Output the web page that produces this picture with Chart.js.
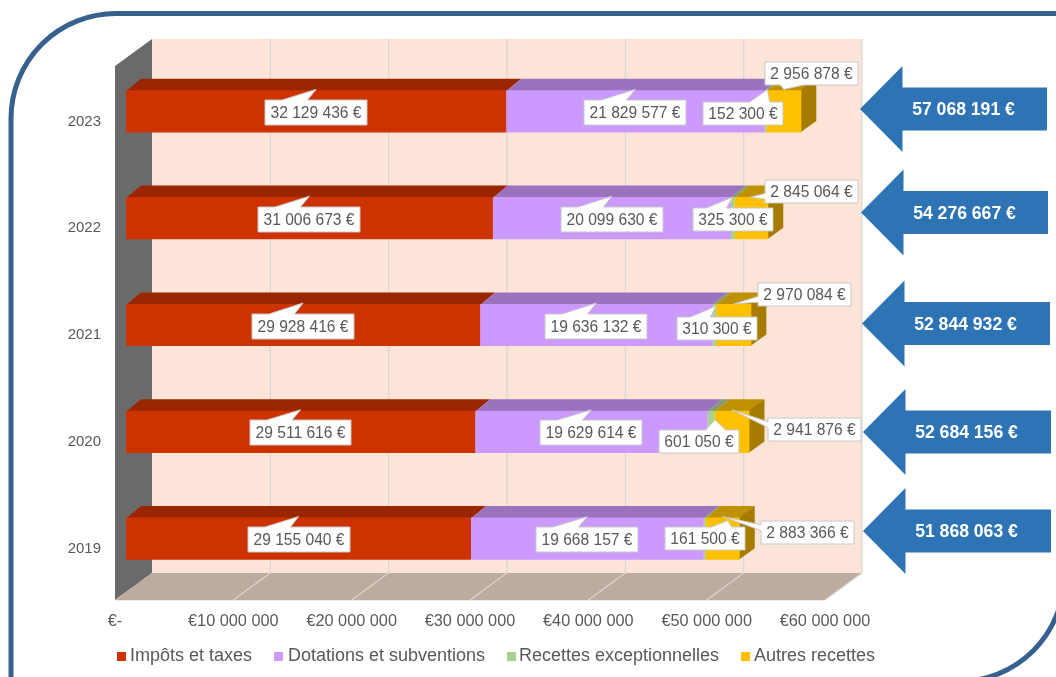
<!DOCTYPE html>
<html lang="fr">
<head>
<meta charset="utf-8">
<title>Recettes de fonctionnement</title>
<script src="https://cdn.jsdelivr.net/npm/chart.js@4"></script>
<style>
  html, body { margin: 0; padding: 0; background: #fff; overflow: hidden; }
  canvas { display: block; }
</style>
</head>
<body>
<canvas id="recettesChart" width="1056" height="677"></canvas>
<script>
const years = ['2023', '2022', '2021', '2020', '2019'];
const impots = [32129436, 31006673, 29928416, 29511616, 29155040];
const dotations = [21829577, 20099630, 19636132, 19629614, 19668157];
const exceptionnelles = [152300, 325300, 310300, 601050, 161500];
const autres = [2956878, 2845064, 2970084, 2941876, 2883366];
const seriesNames = ['Impôts et taxes', 'Dotations et subventions', 'Recettes exceptionnelles', 'Autres recettes'];

const frontColors = ['#CC3300', '#CC99FF', '#A9D18E', '#FFC000'];
const topColors = ['#9A2600', '#9A72BE', '#7F9E6B', '#BF9000'];
const sideColor = '#A67C00';
const textColor = '#595959';
const fontFamily = '"Liberation Sans", Arial, sans-serif';

// fake 3D: wall depth, bar position inside it, and bar thickness in depth
const wallDepth = { x: 37, y: -27 };
const barShift = { x: 11, y: -8 };
const barDepth = { x: 15, y: -11.5 };

// callout placement relative to the segment centre, for the two small series
const smallCallouts = [
  [{ dx: -22, dy: 2, tipX: 2, tipY: -22 }, { dx: 28, dy: -38, tipX: 0, tipY: -22 }],
  [{ dx: 0, dy: 1, tipX: 0, tipY: -21 }, { dx: 60, dy: -27, tipX: -1, tipY: -21 }],
  [{ dx: 3, dy: 3, tipX: 2, tipY: -19 }, { dx: 71, dy: -31, tipX: 0, tipY: -21 }],
  [{ dx: -12, dy: 10, tipX: 4, tipY: -12 }, { dx: 82, dy: -2, tipX: 0, tipY: -22 }],
  [{ dx: 0, dy: 0, tipX: 23, tipY: -18 }, { dx: 85, dy: -6, tipX: 0, tipY: -22 }]
];

// blue total arrows, one per year
const arrowTips = [860, 861, 862, 863, 863];
const arrowEnds = [1047, 1048, 1050, 1051, 1051];
const arrowMids = [109, 212.5, 323.5, 432, 531];
const legendSquares = [117, 274, 507, 741];
const legendTexts = [130, 288, 519, 754];

const formatEuro = v => String(v).replace(/\B(?=(\d{3})+$)/g, ' ');

function polygon(ctx, points, fill) {
  ctx.beginPath();
  points.forEach((p, i) => (i ? ctx.lineTo(p[0], p[1]) : ctx.moveTo(p[0], p[1])));
  ctx.closePath();
  ctx.fillStyle = fill;
  ctx.fill();
}

// blue frame around the slide, rounded on two opposite corners
const framePlugin = {
  id: 'frame',
  beforeDraw(chart) {
    const ctx = chart.ctx;
    ctx.save();
    ctx.beginPath();
    ctx.roundRect(11, 13.5, 1053, 668, [105, 0, 105, 0]);
    ctx.lineWidth = 5;
    ctx.strokeStyle = '#36618F';
    ctx.stroke();
    ctx.restore();
  }
};

const wallsPlugin = {
  id: 'walls',
  beforeDatasetsDraw(chart) {
    const ctx = chart.ctx;
    const { left, right, top, bottom } = chart.chartArea;
    const dx = wallDepth.x, dy = wallDepth.y;
    const x = chart.scales.x;

    polygon(ctx, [[left + dx, top + dy], [right + dx, top + dy], [right + dx, bottom + dy], [left + dx, bottom + dy]], '#FDE4D8');
    polygon(ctx, [[left, top], [left + dx, top + dy], [left + dx, bottom + dy], [left, bottom]], '#6A6A6A');
    polygon(ctx, [[left, bottom], [left + dx, bottom + dy], [right + dx, bottom + dy], [right, bottom]], '#BDABA0');

    ctx.save();
    ctx.strokeStyle = '#DAD6D3';
    ctx.lineWidth = 1.2;
    x.ticks.forEach(t => {
      const px = x.getPixelForValue(t.value);
      if (t.value === 0) return;
      ctx.beginPath();
      ctx.moveTo(px, bottom);
      ctx.lineTo(px + dx, bottom + dy);
      ctx.lineTo(px + dx, top + dy);
      ctx.stroke();
    });
    ctx.beginPath();
    ctx.moveTo(left, bottom + 0.5);
    ctx.lineTo(right, bottom + 0.5);
    ctx.strokeStyle = '#F0E8E3';
    ctx.stroke();
    ctx.restore();

    // everything the datasets draw sits a little inside the box
    ctx.save();
    ctx.translate(barShift.x, barShift.y);
    drawBarFaces(chart);
  },
  afterDatasetsDraw(chart) {
    chart.ctx.restore();
  }
};

// top and end faces; they run 1px under the front face so no seam shows
function drawBarFaces(chart) {
  const ctx = chart.ctx;
  const last = chart.data.datasets.length - 1;
  chart.data.datasets.forEach((ds, d) => {
    chart.getDatasetMeta(d).data.forEach(bar => {
      const top = bar.y - bar.height / 2;
      const bottom = bar.y + bar.height / 2;
      polygon(ctx, [[bar.base, top + 1], [bar.x, top + 1], [bar.x + barDepth.x, top + barDepth.y], [bar.base + barDepth.x, top + barDepth.y]], topColors[d]);
      if (d === last) {
        polygon(ctx, [[bar.x - 1, top], [bar.x + barDepth.x, top + barDepth.y], [bar.x + barDepth.x, bottom + barDepth.y], [bar.x - 1, bottom]], sideColor);
      }
    });
  });
}

// rectangular callout with a wedge on the edge facing its tip
function drawCallout(ctx, text, cx, cy, h, tx, ty) {
  ctx.font = '15.6px ' + fontFamily;
  const w = Math.round(ctx.measureText(text).width + 11);
  const l = Math.round(cx - w / 2), t = Math.round(cy - h / 2);
  const r = l + w, b = t + h;
  const rx = (tx - cx) / w, ry = (ty - cy) / h;
  const pts = [];
  const along = (a, size, first) => (first ? [a + size / 6, a + size * 5 / 12] : [a + size * 7 / 12, a + size * 5 / 6]);

  pts.push([l, t]);
  if (Math.abs(ry) > Math.abs(rx) && ry < 0) {
    const s = along(l, w, rx < 0.05);
    pts.push([s[0], t], [tx, ty], [s[1], t]);
  }
  pts.push([r, t]);
  if (Math.abs(rx) >= Math.abs(ry) && rx > 0) {
    const s = along(t, h, ry < 0);
    pts.push([r, s[0]], [tx, ty], [r, s[1]]);
  }
  pts.push([r, b]);
  if (Math.abs(ry) > Math.abs(rx) && ry > 0) {
    const s = along(l, w, rx < 0.05);
    pts.push([s[1], b], [tx, ty], [s[0], b]);
  }
  pts.push([l, b]);
  if (Math.abs(rx) >= Math.abs(ry) && rx < 0) {
    const s = along(t, h, ry < 0);
    pts.push([l, s[1]], [tx, ty], [l, s[0]]);
  }

  polygon(ctx, pts, '#FFFFFF');
  ctx.lineWidth = 1;
  ctx.strokeStyle = '#C8C8C8';
  ctx.stroke();

  ctx.fillStyle = textColor;
  ctx.textAlign = 'center';
  ctx.textBaseline = 'middle';
  ctx.fillText(text, (l + r) / 2, (t + b) / 2 + 1);
}

const calloutsPlugin = {
  id: 'callouts',
  afterDraw(chart) {
    const ctx = chart.ctx;
    ctx.save();
    chart.data.datasets.forEach((ds, d) => {
      chart.getDatasetMeta(d).data.forEach((bar, i) => {
        const mx = (bar.base + bar.x) / 2 + barShift.x;
        const my = bar.y + barShift.y;
        const small = d >= 2 ? smallCallouts[i][d - 2] : { dx: 0, dy: 1, tipX: 0, tipY: -22 };
        drawCallout(ctx, formatEuro(ds.data[i]) + ' €', mx + small.dx, my + small.dy, d >= 2 ? 23 : 25, mx + small.tipX, my + small.tipY);
      });
    });
    ctx.restore();
  }
};

const arrowsPlugin = {
  id: 'arrows',
  afterDraw(chart) {
    const ctx = chart.ctx;
    const sets = chart.data.datasets;
    ctx.save();
    years.forEach((y, i) => {
      const tip = arrowTips[i], end = arrowEnds[i], mid = arrowMids[i];
      const neck = tip + 42.5;
      polygon(ctx, [[tip, mid], [neck, mid - 43], [neck, mid - 21.5], [end, mid - 21.5], [end, mid + 21.5], [neck, mid + 21.5], [neck, mid + 43]], '#2E74B5');
      const total = sets.reduce((sum, ds) => sum + ds.data[i], 0);
      ctx.font = 'bold 17.6px ' + fontFamily;
      ctx.fillStyle = '#FFFFFF';
      ctx.textAlign = 'center';
      ctx.textBaseline = 'middle';
      ctx.fillText(formatEuro(total) + ' €', tip + 103.5, mid + 1.5);
    });
    ctx.restore();
  }
};

const legendPlugin = {
  id: 'bottomLegend',
  afterDraw(chart) {
    const ctx = chart.ctx;
    ctx.save();
    ctx.font = '18px ' + fontFamily;
    ctx.textAlign = 'left';
    ctx.textBaseline = 'middle';
    chart.data.datasets.forEach((ds, d) => {
      ctx.fillStyle = ds.backgroundColor;
      ctx.fillRect(legendSquares[d], 652, 9, 9);
      ctx.fillStyle = textColor;
      ctx.fillText(ds.label, legendTexts[d], 656.5);
    });
    ctx.restore();
  }
};

const seriesValues = [impots, dotations, exceptionnelles, autres];

new Chart(document.getElementById('recettesChart'), {
  type: 'bar',
  data: {
    labels: years,
    datasets: seriesValues.map((values, d) => ({
      label: seriesNames[d],
      data: values,
      backgroundColor: frontColors[d],
      borderWidth: 0,
      barPercentage: 0.395,
      categoryPercentage: 1
    }))
  },
  options: {
    indexAxis: 'y',
    responsive: false,
    animation: false,
    layout: { padding: { top: 66, right: 231, bottom: 0, left: 0 } },
    scales: {
      x: {
        stacked: true,
        min: 0,
        max: 60000000,
        grid: { display: false },
        border: { display: false },
        afterFit: s => { s.height = 77; },
        ticks: {
          stepSize: 10000000,
          autoSkip: false,
          maxRotation: 0,
          padding: 4,
          color: textColor,
          font: { family: fontFamily, size: 16.3 },
          callback: v => (v === 0 ? '€-' : '€' + formatEuro(v))
        }
      },
      y: {
        stacked: true,
        grid: { display: false },
        border: { display: false },
        afterFit: s => { s.width = 115; },
        ticks: {
          padding: 6,
          labelOffset: 2,
          color: textColor,
          font: { family: fontFamily, size: 15 }
        }
      }
    },
    plugins: {
      legend: { display: false },
      tooltip: { enabled: false }
    }
  },
  plugins: [framePlugin, wallsPlugin, calloutsPlugin, arrowsPlugin, legendPlugin]
});
</script>
</body>
</html>
